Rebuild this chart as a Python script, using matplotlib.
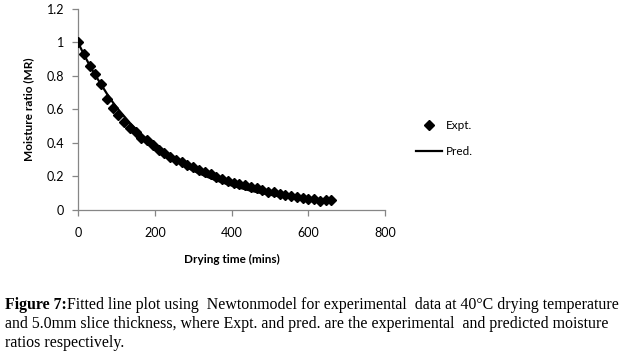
import numpy as np
import matplotlib.pyplot as plt

# drying data
time_min = [0, 15, 30, 45, 60, 75, 90, 105, 120, 135, 150, 165, 180, 195, 210,
            225, 240, 255, 270, 285, 300, 315, 330, 345, 360, 375, 390, 405, 420,
            435, 450, 465, 480, 495, 510, 525, 540, 555, 570, 585, 600, 615, 630,
            645, 660]
mr_expt = [1.0, 0.933, 0.857, 0.81, 0.75, 0.66, 0.606, 0.566, 0.527, 0.49, 0.467,
           0.43, 0.418, 0.388, 0.358, 0.339, 0.319, 0.30, 0.285, 0.27, 0.255,
           0.236, 0.224, 0.216, 0.196, 0.186, 0.176, 0.164, 0.154, 0.149, 0.139,
           0.129, 0.117, 0.109, 0.105, 0.095, 0.089, 0.081, 0.077, 0.069, 0.067,
           0.065, 0.055, 0.058, 0.057]
mr_pred = [1.0, 0.93, 0.865, 0.805, 0.75, 0.695, 0.645, 0.60, 0.56, 0.52, 0.485,
           0.45, 0.42, 0.39, 0.362, 0.337, 0.314, 0.292, 0.272, 0.253, 0.235,
           0.219, 0.204, 0.19, 0.177, 0.165, 0.153, 0.143, 0.133, 0.124, 0.115,
           0.107, 0.1, 0.093, 0.087, 0.081, 0.076, 0.071, 0.066, 0.062, 0.058,
           0.054, 0.051, 0.048, 0.046]

xticks = [0, 200, 400, 600, 800]
yticks = [0, 0.2, 0.4, 0.6, 0.8, 1, 1.2]

fig = plt.figure(figsize=(6.22, 3.57), dpi=100)
ax = fig.add_axes([0.1254, 0.4118, 0.494, 0.563])

ax.plot(time_min, mr_pred, color='black', lw=1.6, label='Pred.', zorder=2)
ax.plot(time_min, mr_expt, ls='none', marker='D', ms=4.6, color='black',
        label='Expt.', zorder=3)

ax.set_xlim(0, 800)
ax.set_ylim(0, 1.2)
ax.set_xticks(xticks)
ax.set_yticks(yticks)
ax.set_xticklabels([str(t) for t in xticks])
ax.set_yticklabels(['0', '0.2', '0.4', '0.6', '0.8', '1', '1.2'])
for s in ['top', 'right']:
    ax.spines[s].set_visible(False)
for s in ['left', 'bottom']:
    ax.spines[s].set_color('#868686')
    ax.spines[s].set_linewidth(0.9)
ax.tick_params(direction='out', length=4, width=0.9, color='#868686',
               labelsize=9, pad=6, labelcolor='black')
ax.tick_params(axis='x', pad=8)
for lab in ax.get_xticklabels() + ax.get_yticklabels():
    lab.set_family('Lato')

ax.set_xlabel('Drying time (mins)', fontsize=8.5, fontweight='bold',
              family='Lato', labelpad=11)
ax.set_ylabel('Moisture ratio (MR)', fontsize=8.5, fontweight='bold',
              family='Lato', labelpad=9)

h, l = ax.get_legend_handles_labels()
fig.legend(h[::-1], l[::-1], loc='center left', bbox_to_anchor=(0.652, 0.612),
           frameon=False, prop={'family': 'Lato', 'size': 8.5},
           handlelength=2.2, labelspacing=1.3, handletextpad=0.3)

# caption
fs = 11.4
fig.canvas.draw()
r = fig.canvas.get_renderer()
t0 = fig.text(0.008, 1 - 305 / 357, 'Figure 7:', fontsize=fs, fontweight='bold',
              family='Liberation Serif', va='center')
bb = t0.get_window_extent(r)
fig.text(bb.x1 / fig.bbox.width, 1 - 305 / 357,
         'Fitted line plot using  Newtonmodel for experimental  data at 40°C drying temperature',
         fontsize=fs, family='Liberation Serif', va='center')
fig.text(0.008, 1 - 324 / 357,
         'and 5.0mm slice thickness, where Expt. and pred. are the experimental  and predicted moisture',
         fontsize=fs, family='Liberation Serif', va='center')
fig.text(0.008, 1 - 343 / 357, 'ratios respectively.',
         fontsize=fs, family='Liberation Serif', va='center')

fig.savefig('out.png', dpi=100)
